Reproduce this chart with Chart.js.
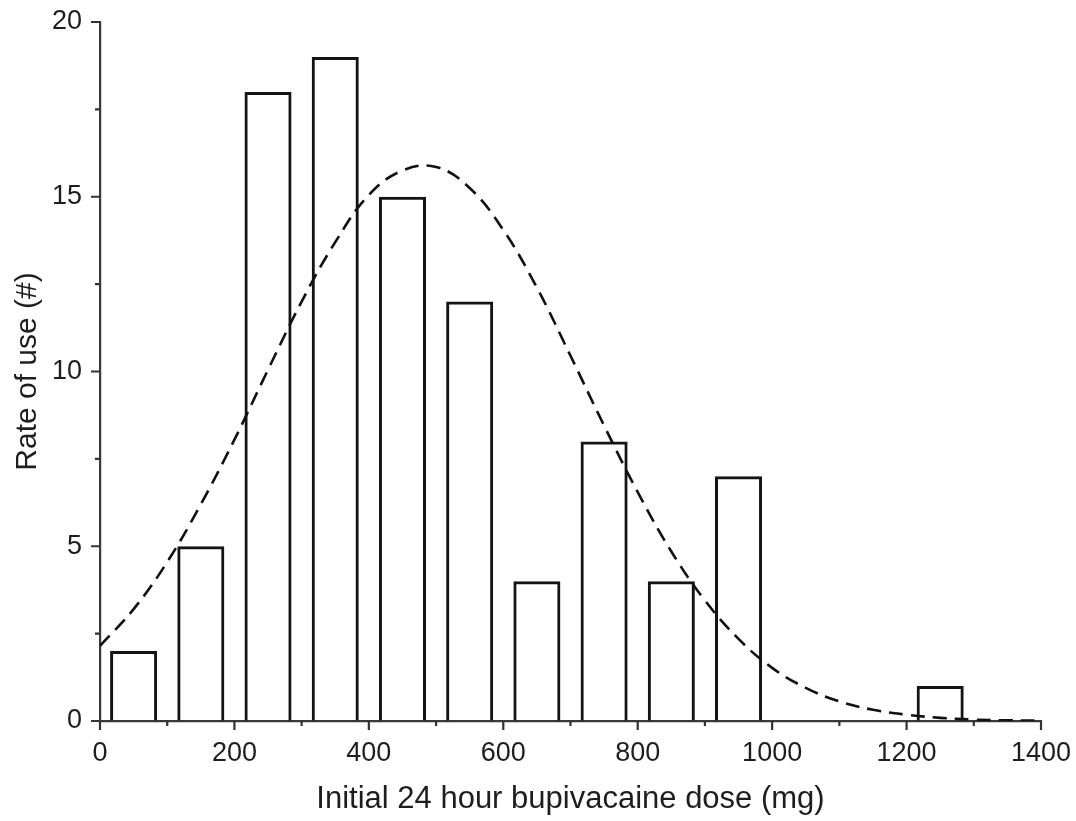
<!DOCTYPE html>
<html>
<head>
<meta charset="utf-8">
<script src="https://cdn.jsdelivr.net/npm/chart.js@4/dist/chart.umd.min.js"></script>
<style>
  html, body { margin: 0; padding: 0; background: #fff; }
  #wrap { width: 1076px; height: 821px; }
</style>
</head>
<body>
<div id="wrap"><canvas id="chart"></canvas></div>
<script>
// histogram bins (mg) and counts
const binCenters = [50, 150, 250, 350, 450, 550, 650, 750, 850, 950, 1050, 1150, 1250];
const counts = [2, 5, 18, 19, 15, 12, 4, 8, 4, 7, 0, 0, 1];

// fitted curve
const curveX = [0, 50, 100, 150, 200, 250, 300, 350, 400, 450, 500, 550, 600, 650, 700,
  750, 800, 850, 900, 950, 1000, 1050, 1100, 1150, 1200, 1250, 1300, 1350, 1400];
const curveY = [2.15, 3.2, 4.55, 6.2, 8.05, 10.05, 12.0, 13.7, 15.05, 15.75, 15.85, 15.25, 14.05, 12.4, 10.45,
  8.45, 6.55, 4.85, 3.45, 2.35, 1.52, 0.95, 0.56, 0.32, 0.18, 0.09, 0.04, 0.02, 0.01];

const xTicks = [0, 200, 400, 600, 800, 1000, 1200, 1400];
const yTicks = [0, 5, 10, 15, 20];

Chart.defaults.font.family = "'Liberation Sans', Arial, sans-serif";
Chart.defaults.color = '#1e1e1e';

// major + minor tick marks (outside)
const tickMarks = {
  id: 'tickMarks',
  afterDraw(chart) {
    const c = chart.ctx;
    const xs = chart.scales.x, ys = chart.scales.y;
    c.save();
    c.strokeStyle = '#333';
    c.lineWidth = 2.2;
    c.beginPath();
    xs.ticks.forEach(t => {
      const px = xs.getPixelForValue(t.value);
      const len = xTicks.includes(t.value) ? 9 : 5;
      c.moveTo(px, xs.top);
      c.lineTo(px, xs.top + len);
    });
    ys.ticks.forEach(t => {
      const py = ys.getPixelForValue(t.value);
      const len = yTicks.includes(t.value) ? 9 : 5;
      c.moveTo(ys.right, py);
      c.lineTo(ys.right - len, py);
    });
    c.stroke();
    c.restore();
  }
};

const ctx = document.getElementById('chart');
const chart = new Chart(ctx, {
  type: 'bar',
  data: {
    datasets: [
      {
        type: 'line',
        data: curveX.map((x, i) => ({ x: x, y: curveY[i] })),
        borderColor: '#111',
        borderWidth: 2.6,
        borderDash: [14, 8],
        pointRadius: 0,
        tension: 0.4,
        fill: false,
        order: 0
      },
      {
        type: 'bar',
        data: binCenters.map((x, i) => ({ x: x, y: counts[i] })),
        backgroundColor: 'rgba(255,255,255,0)',
        borderColor: '#141414',
        borderWidth: c => (c.raw && c.raw.y > 0 ? 3 : 0),
        barPercentage: 0.7,
        categoryPercentage: 1.0,
        order: 1
      }
    ]
  },
  options: {
    responsive: true,
    maintainAspectRatio: false,
    animation: false,
    layout: { padding: { left: 0, right: 35, top: 22, bottom: 0 } },
    plugins: {
      legend: { display: false },
      tooltip: { enabled: false }
    },
    scales: {
      x: {
        type: 'linear',
        min: 0,
        max: 1400,
        offset: false,
        afterFit: s => { s.height = 100; s.paddingLeft = 0; s.paddingRight = 0; },
        grid: { display: true, drawOnChartArea: false, offset: false, tickLength: 9, tickColor: 'transparent' },
        border: { display: true, color: '#3a3a3a', width: 2.2 },
        ticks: {
          stepSize: 100,
          padding: 7,
          maxRotation: 0,
          autoSkip: false,
          font: { size: 27 },
          callback: v => (xTicks.includes(v) ? v : '')
        },
        title: {
          display: true,
          text: 'Initial 24 hour bupivacaine dose (mg)',
          font: { size: 31 },
          padding: { top: 0, bottom: 3 }
        }
      },
      y: {
        min: 0,
        max: 20,
        afterFit: s => { s.width = 100; s.paddingTop = 0; s.paddingBottom = 0; },
        grid: { display: true, drawOnChartArea: false, tickLength: 9, tickColor: 'transparent' },
        border: { display: true, color: '#3a3a3a', width: 2.2 },
        ticks: {
          stepSize: 2.5,
          padding: 9,
          autoSkip: false,
          font: { size: 27 },
          callback: v => (yTicks.includes(v) ? v : '')
        },
        title: {
          display: true,
          text: 'Rate of use (#)',
          font: { size: 30 },
          padding: { top: 10, bottom: 0 }
        }
      }
    }
  },
  plugins: [tickMarks]
});
</script>
</body>
</html>
